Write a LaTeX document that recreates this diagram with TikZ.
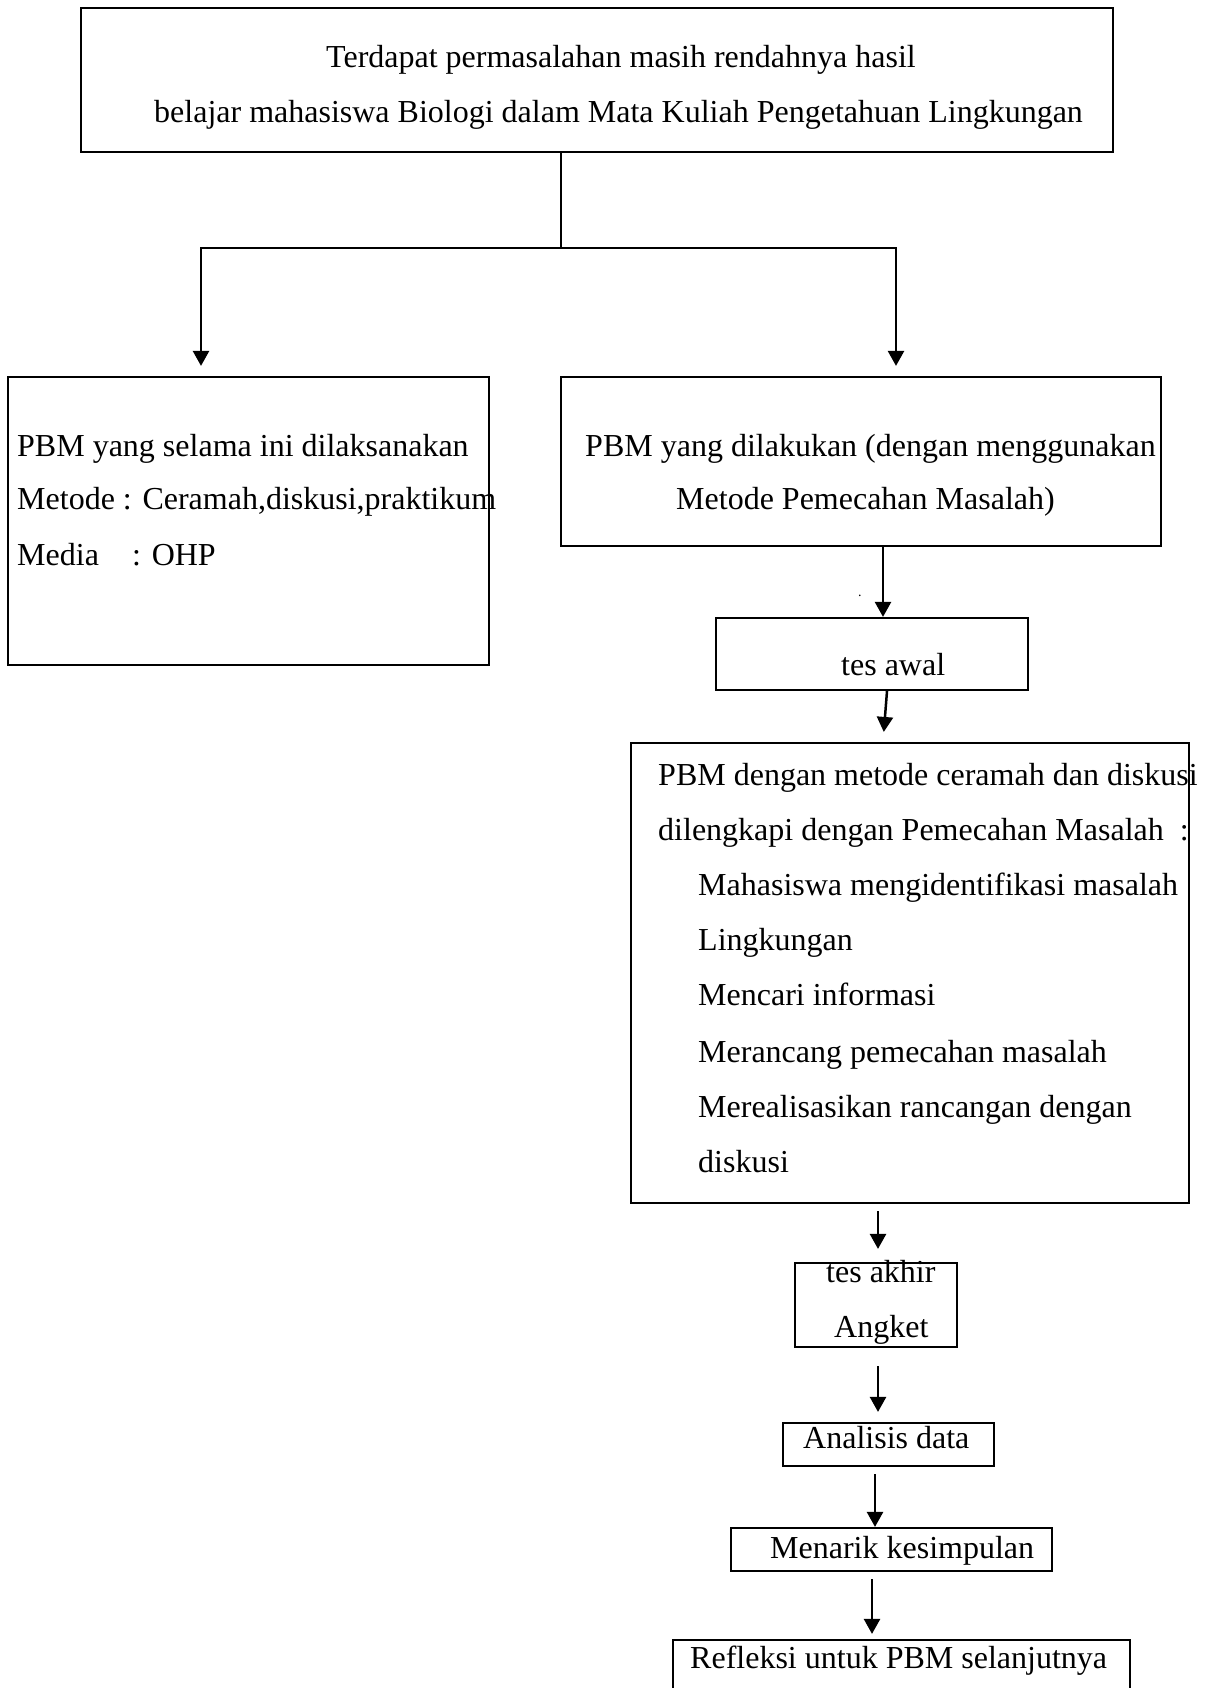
\documentclass[tikz,border=0pt]{standalone}
\usepackage{fontspec}
\setmainfont{Liberation Serif}
\usetikzlibrary{arrows.meta}
\tikzset{
  boxnode/.style={draw=black, line width=2.2pt, inner sep=0pt, fill=none},
  txt/.style={anchor=base west, inner sep=0pt, font=\fontsize{32}{38}\selectfont},
  conn/.style={draw=black, line width=2.5pt},
  arr/.style={conn, -{Triangle[length=15pt,width=16pt]}}
}
\begin{document}
\begin{tikzpicture}[x=1pt,y=-1pt]
\useasboundingbox (0,0) rectangle (1204,1688);
% boxes
\node[boxnode, minimum width=1032pt, minimum height=144pt] (top) at (597,80) {};
\node[boxnode, minimum width=481pt, minimum height=288pt] (left) at (248.5,521) {};
\node[boxnode, minimum width=600pt, minimum height=169pt] (right) at (861,461.5) {};
\node[boxnode, minimum width=312pt, minimum height=72pt] (awal) at (872,654) {};
\node[boxnode, minimum width=558pt, minimum height=460pt] (big) at (910,973) {};
\node[boxnode, minimum width=162pt, minimum height=84pt] (akhir) at (876,1305) {};
\node[boxnode, minimum width=211pt, minimum height=43pt] (anal) at (888.5,1444.5) {};
\node[boxnode, minimum width=321pt, minimum height=43pt] (menarik) at (891.5,1549.5) {};
\node[boxnode, minimum width=457pt, minimum height=80pt] (refl) at (901.5,1680) {};
% helper coordinates
\coordinate (j) at (561,248);
\coordinate (jl) at (201,248);
\coordinate (jr) at (896,248);
\coordinate (c883) at (883,0);
\coordinate (c887) at (887,0);
\coordinate (c878) at (878,0);
\coordinate (c875) at (875,0);
\coordinate (c872) at (872,0);
% connectors
\draw[conn] (top.south -| j) -- (j);
\draw[arr, shorten >=10pt] (j) -| (left.north -| jl);
\draw[arr, shorten >=10pt] (j) -| (right.north -| jr);
\draw[arr] (right.south -| c883) -- (awal.north -| c883);
\draw[arr, shorten >=10pt] (awal.south -| c887) -- (big.north -| c883);
\draw[arr, shorten <=7pt, shorten >=13pt] (big.south -| c878) -- (akhir.north -| c878);
\draw[arr, shorten <=18pt, shorten >=10pt] (akhir.south -| c878) -- (anal.north -| c878);
\draw[arr, shorten <=7pt] (anal.south -| c875) -- (menarik.north -| c875);
\draw[arr, shorten <=7pt, shorten >=5pt] (menarik.south -| c872) -- (refl.north -| c872);
% texts
\node[txt] (t1) at (326,68) {Terdapat permasalahan masih rendahnya hasil};
\node[txt] (t2) at (154,123) {belajar mahasiswa Biologi dalam Mata Kuliah Pengetahuan Lingkungan};
\node[txt] (l1) at (17,456) {PBM yang selama ini dilaksanakan};
\node[txt] (l2) at (17,509) {Metode : Ceramah,diskusi,praktikum};
\node[txt] (l3) at (17,565) {\makebox[115pt][l]{Media}: OHP};
\node[txt] (r1) at (585,456) {PBM yang dilakukan (dengan menggunakan};
\node[txt] (r2) at (676,509) {Metode Pemecahan Masalah)};
\node[txt, font=\fontsize{14}{16}\selectfont] (dot) at (858,596) {.};
\node[txt] (a1) at (841,675) {tes awal};
\node[txt] (b1) at (658,785) {PBM dengan metode ceramah dan diskusi};
\node[txt] (b2) at (658,840) {dilengkapi dengan Pemecahan Masalah\hspace{16pt}:};
\node[txt] (b3) at (698,895) {Mahasiswa mengidentifikasi masalah};
\node[txt] (b4) at (698,950) {Lingkungan};
\node[txt] (b5) at (698,1005) {Mencari informasi};
\node[txt] (b6) at (698,1062) {Merancang pemecahan masalah};
\node[txt] (b7) at (698,1117) {Merealisasikan rancangan dengan};
\node[txt] (b8) at (698,1172) {diskusi};
\node[txt] (k1) at (826,1282) {tes akhir};
\node[txt] (k2) at (834,1337) {Angket};
\node[txt] (an) at (803,1448) {Analisis data};
\node[txt] (mk) at (770,1558) {Menarik kesimpulan};
\node[txt] (rf) at (690,1668) {Refleksi untuk PBM selanjutnya};
\end{tikzpicture}
\end{document}
